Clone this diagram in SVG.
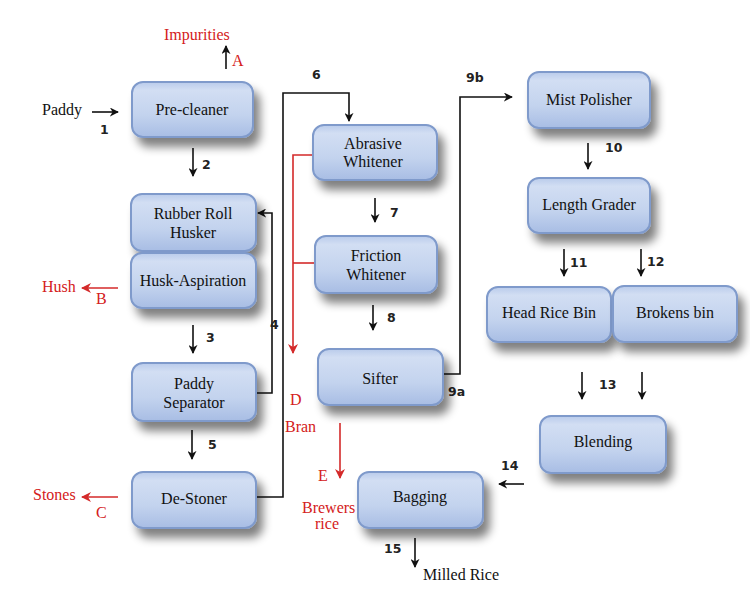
<svg xmlns="http://www.w3.org/2000/svg" width="750" height="613" viewBox="0 0 750 613">
<defs>
<linearGradient id="g" x1="0" y1="0" x2="0" y2="1">
<stop offset="0" stop-color="#b9cbeb"/>
<stop offset="0.15" stop-color="#d2def3"/>
<stop offset="0.6" stop-color="#c3d3ee"/>
<stop offset="1" stop-color="#a8bde4"/>
</linearGradient>
<filter id="sh" x="-20%" y="-20%" width="150%" height="170%">
<feGaussianBlur in="SourceAlpha" stdDeviation="5"/>
<feOffset dx="6" dy="9" result="b"/>
<feComponentTransfer><feFuncA type="linear" slope="0.5"/></feComponentTransfer>
<feMerge><feMergeNode/><feMergeNode in="SourceGraphic"/></feMerge>
</filter>
<marker id="ak" viewBox="0 0 10 10" refX="9" refY="5" markerWidth="9" markerHeight="9" markerUnits="userSpaceOnUse" orient="auto"><path d="M0,0 L10,5 L0,10 L3,5 z" fill="#111"/></marker>
<marker id="ar" viewBox="0 0 10 10" refX="9" refY="5" markerWidth="10" markerHeight="10" markerUnits="userSpaceOnUse" orient="auto"><path d="M0,0 L10,5 L0,10 L3,5 z" fill="#d42a2a"/></marker>
</defs>
<style>
.n rect{fill:url(#g);stroke:#7f9acb;stroke-width:2;filter:url(#sh)}
.n text{font-family:"Liberation Serif",serif;font-size:16px;fill:#111;text-anchor:middle}
.k{stroke:#111;stroke-width:1.6;fill:none}
.r{stroke:#d42a2a;stroke-width:1.6;fill:none}
.lb{font-family:"DejaVu Sans",sans-serif;font-weight:bold;font-size:12.5px;fill:#222}
.rt{font-family:"Liberation Serif",serif;font-size:16px;fill:#d42020}
.bt{font-family:"Liberation Serif",serif;font-size:16px;fill:#111}
</style>
<rect width="750" height="613" fill="#fff"/>
<g id="connectors">
<line class="k" x1="92" y1="112" x2="118" y2="112" marker-end="url(#ak)"/>
<line class="k" x1="226" y1="69" x2="226" y2="46" marker-end="url(#ak)"/>
<line class="k" x1="193" y1="148" x2="193" y2="176" marker-end="url(#ak)"/>
<line class="r" x1="118" y1="288" x2="82" y2="288" marker-end="url(#ar)"/>
<line class="k" x1="193" y1="325" x2="193" y2="353" marker-end="url(#ak)"/>
<polyline class="k" points="256,393 272,393 272,213 258,213" marker-end="url(#ak)"/>
<line class="k" x1="192" y1="430" x2="192" y2="459" marker-end="url(#ak)"/>
<line class="r" x1="118" y1="497" x2="82" y2="497" marker-end="url(#ar)"/>
<polyline class="k" points="256,497 283,497 283,93 349,93 349,121" marker-end="url(#ak)"/>
<polyline class="r" points="313,155 293,155 293,353" marker-end="url(#ar)"/>
<line class="r" x1="315" y1="263" x2="293" y2="263"/>
<line class="k" x1="375" y1="198" x2="375" y2="222" marker-end="url(#ak)"/>
<line class="k" x1="373" y1="305" x2="373" y2="330" marker-end="url(#ak)"/>
<polyline class="k" points="443,374 460,374 460,97 512,97" marker-end="url(#ak)"/>
<line class="r" x1="340" y1="423" x2="340" y2="478" marker-end="url(#ar)"/>
<line class="k" x1="588" y1="143" x2="588" y2="169" marker-end="url(#ak)"/>
<line class="k" x1="564" y1="249" x2="564" y2="276" marker-end="url(#ak)"/>
<line class="k" x1="641" y1="249" x2="641" y2="276" marker-end="url(#ak)"/>
<line class="k" x1="582" y1="372" x2="582" y2="399" marker-end="url(#ak)"/>
<line class="k" x1="642" y1="372" x2="642" y2="399" marker-end="url(#ak)"/>
<line class="k" x1="524" y1="484" x2="499" y2="484" marker-end="url(#ak)"/>
<line class="k" x1="415" y1="538" x2="415" y2="567" marker-end="url(#ak)"/>
</g>
<g id="labels">
<text class="bt" x="42" y="115">Paddy</text>
<text class="lb" x="100" y="134">1</text>
<text class="rt" x="164" y="40">Impurities</text>
<text class="rt" x="232" y="66">A</text>
<text class="lb" x="202" y="169">2</text>
<text class="rt" x="42" y="292">Hush</text>
<text class="rt" x="96" y="304">B</text>
<text class="lb" x="206" y="342">3</text>
<text class="lb" x="270" y="329">4</text>
<text class="lb" x="208" y="449">5</text>
<text class="rt" x="33" y="500">Stones</text>
<text class="rt" x="96" y="518">C</text>
<text class="lb" x="312" y="79">6</text>
<text class="rt" x="290" y="405">D</text>
<text class="rt" x="285" y="432">Bran</text>
<text class="lb" x="390" y="217">7</text>
<text class="lb" x="387" y="322">8</text>
<text class="lb" x="448" y="396">9a</text>
<text class="lb" x="466" y="82">9b</text>
<text class="rt" x="318" y="481">E</text>
<text class="rt" x="302" y="513">Brewers</text>
<text class="rt" x="315" y="529">rice</text>
<text class="lb" x="605" y="152">10</text>
<text class="lb" x="570" y="267">11</text>
<text class="lb" x="647" y="266">12</text>
<text class="lb" x="599" y="389">13</text>
<text class="lb" x="501" y="470">14</text>
<text class="lb" x="384" y="553">15</text>
<text class="bt" x="423" y="580">Milled Rice</text>
</g>
<g id="precleaner" class="n"><rect x="132" y="82" width="121" height="55" rx="11"/><text x="192" y="115">Pre-cleaner</text></g>
<g id="husker" class="n"><rect x="131" y="194" width="125" height="57" rx="11"/><text x="193" y="219">Rubber Roll</text><text x="193" y="238">Husker</text></g>
<g id="aspiration" class="n"><rect x="131" y="253" width="125" height="55" rx="11"/><text x="193" y="286">Husk-Aspiration</text></g>
<g id="separator" class="n"><rect x="132" y="363" width="124" height="58" rx="11"/><text x="194" y="389">Paddy</text><text x="194" y="408">Separator</text></g>
<g id="destoner" class="n"><rect x="132" y="472" width="124" height="56" rx="11"/><text x="194" y="504">De-Stoner</text></g>
<g id="abrasive" class="n"><rect x="313" y="125" width="124" height="55" rx="11"/><text x="373" y="149">Abrasive</text><text x="373" y="167">Whitener</text></g>
<g id="friction" class="n"><rect x="315" y="236" width="122" height="57" rx="11"/><text x="376" y="261">Friction</text><text x="376" y="280">Whitener</text></g>
<g id="sifter" class="n"><rect x="318" y="349" width="125" height="56" rx="11"/><text x="380" y="384">Sifter</text></g>
<g id="bagging" class="n"><rect x="358" y="472" width="125" height="56" rx="11"/><text x="420" y="502">Bagging</text></g>
<g id="mist" class="n"><rect x="528" y="72" width="122" height="56" rx="11"/><text x="589" y="105">Mist Polisher</text></g>
<g id="grader" class="n"><rect x="528" y="178" width="122" height="55" rx="11"/><text x="589" y="210">Length Grader</text></g>
<g id="headrice" class="n"><rect x="487" y="287" width="124" height="55" rx="11"/><text x="549" y="318">Head Rice Bin</text></g>
<g id="brokens" class="n"><rect x="613" y="286" width="124" height="56" rx="11"/><text x="675" y="318">Brokens bin</text></g>
<g id="blending" class="n"><rect x="540" y="416" width="126" height="57" rx="11"/><text x="603" y="447">Blending</text></g>
</svg>
